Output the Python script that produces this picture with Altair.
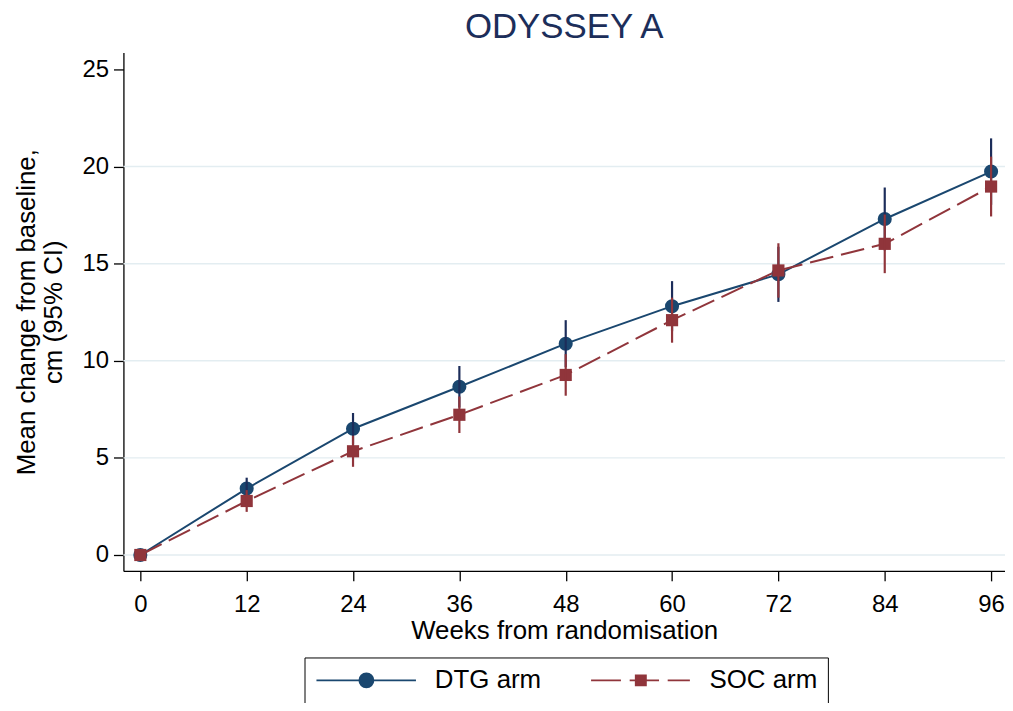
import altair as alt
import pandas as pd

# ---- data ----
weeks = [0, 12, 24, 36, 48, 60, 72, 84, 96]
dtg_mean = [0.0, 3.42, 6.50, 8.66, 10.88, 12.81, 14.45, 17.30, 19.74]
dtg_lo = [0.0, 2.86, 5.69, 7.59, 9.67, 11.52, 13.03, 15.68, 18.03]
dtg_hi = [0.0, 3.98, 7.31, 9.73, 12.09, 14.10, 15.87, 18.92, 21.45]
soc_mean = [0.0, 2.78, 5.34, 7.22, 9.27, 12.09, 14.65, 16.02, 18.97]
soc_lo = [0.0, 2.22, 4.54, 6.28, 8.20, 10.93, 13.25, 14.51, 17.43]
soc_hi = [0.0, 3.34, 6.14, 8.16, 10.34, 13.25, 16.05, 17.53, 20.51]
arms = ["DTG arm", "SOC arm"]
y_ticks = [0, 5, 10, 15, 20, 25]
grid_values = [0, 5, 10, 15, 20]

FONT = "Liberation Sans"
NAVY = "#1a476f"
NAVY_DARK = "#1c2d5a"
MAROON = "#90353b"

dtg = pd.DataFrame({"week": weeks, "mean": dtg_mean, "lo": dtg_lo, "hi": dtg_hi, "arm": arms[0]})
soc = pd.DataFrame({"week": weeks, "mean": soc_mean, "lo": soc_lo, "hi": soc_hi, "arm": arms[1]})
grid_df = pd.DataFrame({"g": grid_values})
legend_df = pd.DataFrame({"arm": arms})

xscale = alt.Scale(domain=[-1.909, 97.57], nice=False, zero=False)
yscale = alt.Scale(domain=[-0.82, 25.87], nice=False, zero=False)

xaxis = alt.Axis(values=weeks, title="Weeks from randomisation", grid=False,
                 domainColor="black", domainWidth=1.3, tickColor="black", tickWidth=1.3,
                 tickSize=10, labelFont=FONT, labelFontSize=24, labelColor="black",
                 labelPadding=12, titleFont=FONT, titleFontSize=26, titleColor="black",
                 titleFontWeight="normal", titlePadding=1, labelFlush=False)
yaxis = alt.Axis(values=y_ticks, title=["Mean change from baseline,", "cm (95% CI)"], grid=False,
                 domainColor="black", domainWidth=1.3, tickColor="black", tickWidth=1.3,
                 tickSize=10, labelFont=FONT, labelFontSize=24, labelColor="black",
                 labelPadding=5, titleFont=FONT, titleFontSize=26, titleColor="black",
                 titleFontWeight="normal", titlePadding=16, titleLineHeight=27, labelFlush=False)


def X(field="week"):
    return alt.X(f"{field}:Q", scale=xscale, axis=xaxis)


def Y(field):
    return alt.Y(f"{field}:Q", scale=yscale, axis=yaxis)


grid = alt.Chart(grid_df).mark_rule(color="#e3edf1", strokeWidth=1.5).encode(y=Y("g"))


def series(df, color, bar_color, shape, size, dash):
    line_kw = dict(color=color, strokeWidth=2)
    if dash:
        line_kw["strokeDash"] = dash
    line = alt.Chart(df).mark_line(**line_kw).encode(x=X(), y=Y("mean"))
    pts = alt.Chart(df).mark_point(shape=shape, filled=True, size=size, color=color,
                                   opacity=1).encode(x=X(), y=Y("mean"))
    bars = alt.Chart(df).mark_rule(color=bar_color, strokeWidth=2.2).encode(
        x=X(), y=Y("lo"), y2="hi")
    return [line, pts, bars]


# legend symbols: line + marker drawn as one path (10 px per unit)
dtg_sym = "M-1.1,0H8.9M3.22,0A0.7,0.7,0,1,0,4.62,0A0.7,0.7,0,1,0,3.22,0Z"
soc_sym = "M-1.1,0H1.9M2.78,0H5.73M6.6,0H8.83M3.4,-0.5H4.4V0.5H3.4Z"

leg = alt.Legend(title=None, orient="none", legendX=182, legendY=608, direction="horizontal",
                 columns=2, symbolSize=400, symbolStrokeWidth=2, labelFont=FONT,
                 labelFontSize=26, labelColor="black", labelOffset=95, columnPadding=46,
                 padding=10, strokeColor="black", symbolOpacity=1,
                 labelExpr="datum.label == 'SOC arm' ? datum.label + '\u00a0\u00a0' : datum.label")

legend_layer = alt.Chart(legend_df).transform_filter("false").mark_point(
    filled=True, size=400, opacity=1, strokeWidth=2).encode(
    shape=alt.Shape("arm:N", scale=alt.Scale(domain=arms, range=[dtg_sym, soc_sym]), legend=leg),
    fill=alt.Fill("arm:N", scale=alt.Scale(domain=arms, range=[NAVY, MAROON]), legend=leg),
    stroke=alt.Stroke("arm:N", scale=alt.Scale(domain=arms, range=[NAVY, MAROON]), legend=leg),
)

layers = [grid]
layers += series(dtg, NAVY, NAVY_DARK, "circle", 200, None)
layers += series(soc, MAROON, MAROON, "square", 150, [24, 8])
layers.append(legend_layer)

chart = alt.layer(*layers).properties(
    width=886, height=521,
    title=alt.TitleParams("ODYSSEY A", font=FONT, fontSize=35, fontWeight="normal",
                          color="#1c2e5a", anchor="middle", offset=8),
    autosize=alt.AutoSizeParams(type="none"),
    padding={"left": 116, "top": 43, "right": 0, "bottom": 131},
).configure_view(stroke=None)

chart.save("out.html", embed_options={"renderer": "svg", "actions": False})
